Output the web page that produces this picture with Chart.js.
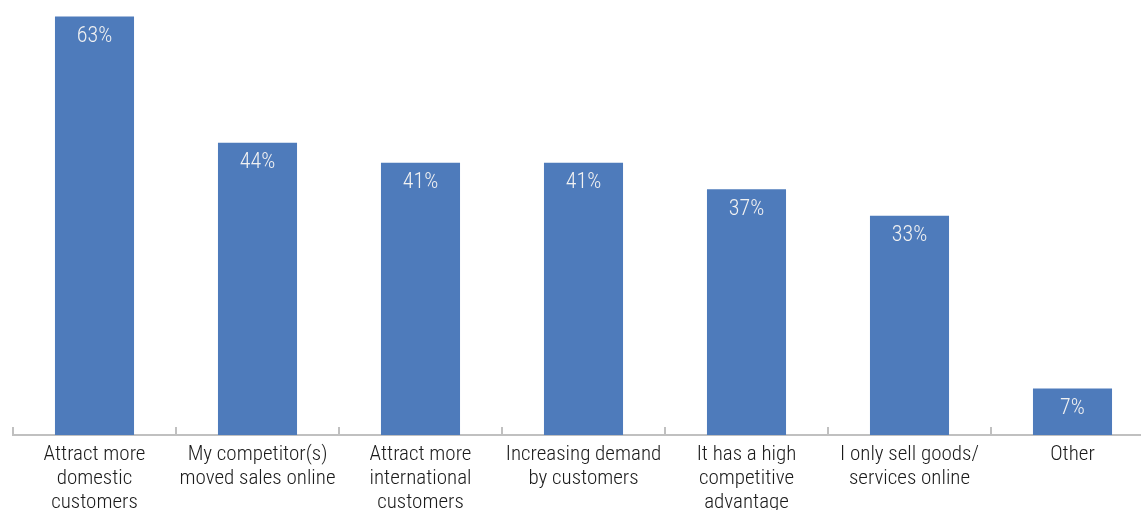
<!DOCTYPE html>
<html>
<head>
<meta charset="utf-8">
<script src="https://cdn.jsdelivr.net/npm/chart.js@4/dist/chart.umd.min.js"></script>
<style>
  html, body { margin: 0; padding: 0; overflow: hidden; background: #fff; }
  #wrap { position: relative; width: 1160px; height: 515px; }
</style>
</head>
<body>
<div id="wrap"><canvas id="chart"></canvas></div>
<script>
// Reasons for selling online (% of respondents)
const categories = [
  ['Attract more', 'domestic', 'customers'],
  ['My competitor(s)', 'moved sales online'],
  ['Attract more', 'international', 'customers'],
  ['Increasing demand', 'by customers'],
  ['It has a high', 'competitive', 'advantage'],
  ['I only sell goods/', 'services online'],
  ['Other']
];
const shares = [63, 44, 41, 41, 37, 33, 7];

const FONT = "'Liberation Sans Narrow', 'Arial Narrow', 'Roboto Condensed', 'DejaVu Sans Condensed', sans-serif";

// white percentage labels inside the top of each bar
const valueLabels = {
  id: 'valueLabels',
  afterDatasetsDraw(chart) {
    const ctx = chart.ctx;
    const meta = chart.getDatasetMeta(0);
    ctx.save();
    ctx.fillStyle = '#f2f2f2';
    ctx.font = '300 22px ' + FONT;
    ctx.textAlign = 'center';
    ctx.textBaseline = 'middle';
    meta.data.forEach((bar, i) => {
      ctx.fillText(shares[i] + '%', bar.x, bar.y + 20);
    });
    ctx.restore();
  }
};

// small tick marks pointing up from the axis, between categories
const upTicks = {
  id: 'upTicks',
  afterDraw(chart) {
    const x = chart.scales.x;
    const ctx = chart.ctx;
    const y = chart.chartArea.bottom;
    const step = x.getPixelForValue(1) - x.getPixelForValue(0);
    ctx.save();
    ctx.strokeStyle = '#c0c0c0';
    ctx.lineWidth = 2;
    ctx.beginPath();
    for (let i = 0; i <= categories.length; i++) {
      const px = x.getPixelForValue(0) - step / 2 + i * step;
      ctx.moveTo(px, y - 8);
      ctx.lineTo(px, y);
    }
    ctx.stroke();
    ctx.restore();
  }
};

new Chart(document.getElementById('chart'), {
  type: 'bar',
  data: {
    labels: categories,
    datasets: [{
      data: shares,
      backgroundColor: '#4E7BBB',
      categoryPercentage: 1,
      barPercentage: 0.485
    }]
  },
  options: {
    responsive: true,
    maintainAspectRatio: false,
    animation: false,
    layout: { padding: { left: 13, right: 6, top: 0, bottom: 0 } },
    plugins: {
      legend: { display: false },
      tooltip: { enabled: false }
    },
    scales: {
      x: {
        grid: { display: false },
        border: { display: true, color: '#c0c0c0', width: 2 },
        ticks: {
          color: '#1a1a1a',
          padding: 0,
          maxRotation: 0,
          autoSkip: false,
          font: { family: FONT, size: 21, weight: '300', lineHeight: '24px' }
        }
      },
      y: {
        display: false,
        min: 0,
        max: 65.5
      }
    }
  },
  plugins: [valueLabels, upTicks]
});
</script>
</body>
</html>
